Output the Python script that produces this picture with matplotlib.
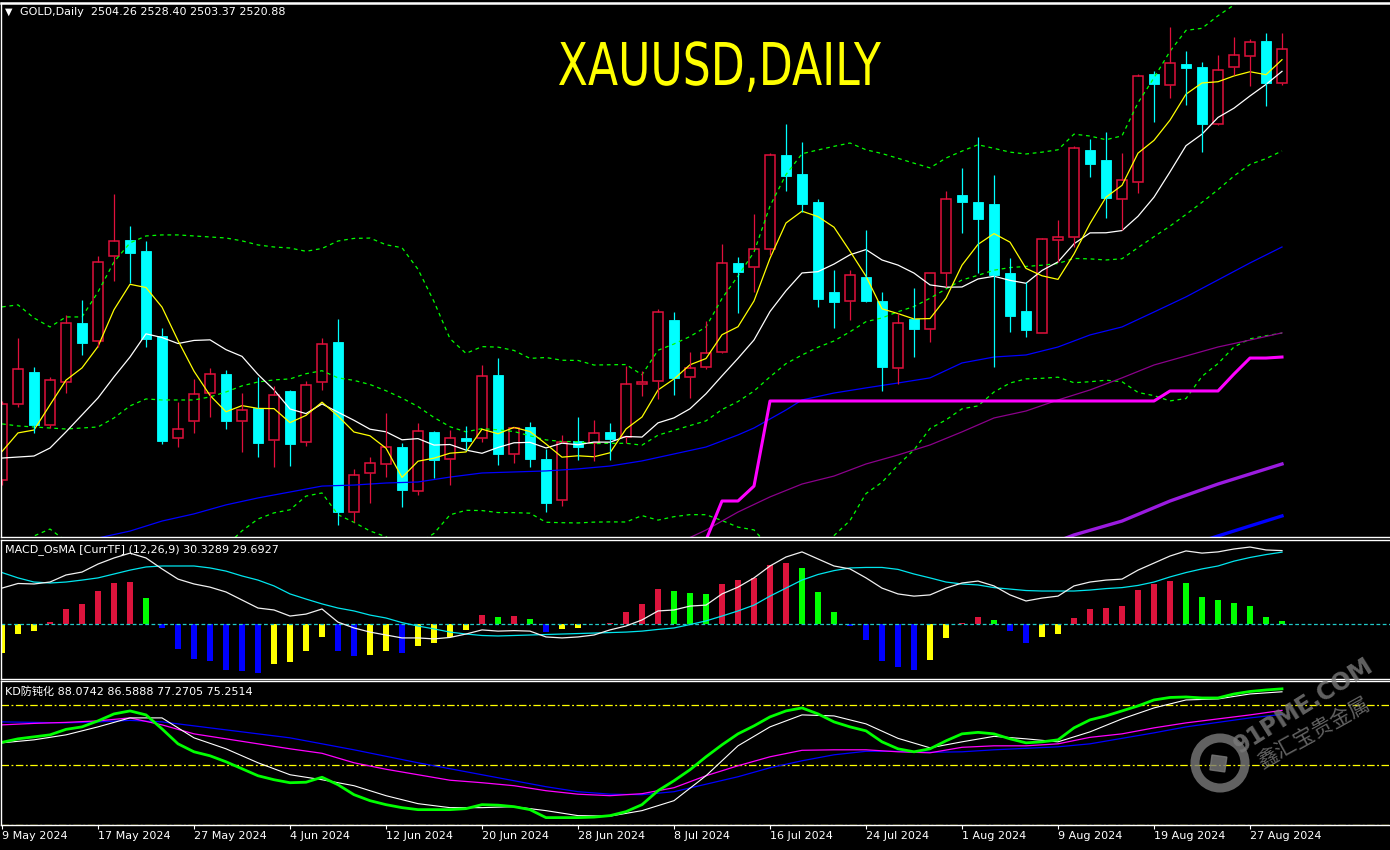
import numpy as np
import pandas as pd
import matplotlib
matplotlib.use('Agg')
import matplotlib.pyplot as plt
from matplotlib.patches import Circle, Rectangle, PathPatch
from matplotlib.textpath import TextPath
from matplotlib.font_manager import FontProperties
import matplotlib.transforms as mtransforms

# ---- data ----
dates = pd.bdate_range('2024-05-09', '2024-08-29')

open_ = [2310.1, 2347.2, 2362.9, 2337.0, 2358.0, 2386.9, 2378.1, 2419.6, 2427.4, 2422.1,
         2380.5, 2330.6, 2338.9, 2352.6, 2361.9, 2338.9, 2345.3, 2329.6, 2353.6, 2328.7,
         2358.0, 2377.6, 2294.4, 2313.5, 2317.9, 2326.2, 2304.7, 2333.6, 2320.4, 2330.6,
         2330.6, 2361.4, 2322.8, 2336.0, 2320.4, 2300.3, 2329.2, 2328.2, 2333.6, 2331.1,
         2357.0, 2358.5, 2388.3, 2360.5, 2365.3, 2372.7, 2416.2, 2414.2, 2423.0, 2469.0,
         2459.7, 2446.0, 2402.0, 2397.6, 2409.3, 2397.6, 2364.9, 2388.8, 2383.9, 2411.3,
         2449.4, 2446.0, 2445.0, 2411.3, 2392.7, 2382.0, 2427.4, 2428.9, 2471.5, 2466.6,
         2447.5, 2455.8, 2508.6, 2503.2, 2513.5, 2512.0, 2484.2, 2512.0, 2517.4, 2524.8,
         2504.26]
high = [2348.7, 2379.5, 2365.3, 2360.5, 2390.8, 2398.1, 2419.6, 2449.9, 2434.3, 2427.0,
        2384.4, 2348.2, 2359.5, 2364.9, 2363.9, 2352.6, 2360.5, 2356.1, 2354.1, 2358.5,
        2379.5, 2388.8, 2315.5, 2321.3, 2342.8, 2328.2, 2338.0, 2334.0, 2334.5, 2336.5,
        2366.3, 2369.7, 2336.0, 2338.4, 2325.2, 2332.1, 2340.9, 2339.4, 2338.0, 2365.8,
        2363.4, 2393.7, 2392.2, 2372.7, 2387.8, 2425.5, 2419.1, 2440.2, 2470.0, 2484.2,
        2475.4, 2447.5, 2412.8, 2412.8, 2432.3, 2402.0, 2391.7, 2404.0, 2411.3, 2451.4,
        2462.6, 2477.8, 2459.2, 2418.6, 2406.9, 2428.4, 2437.2, 2473.4, 2476.8, 2480.3,
        2470.0, 2508.6, 2510.1, 2531.6, 2519.9, 2514.5, 2517.9, 2526.7, 2525.7, 2528.7,
        2528.40]
low = [2307.6, 2345.8, 2333.1, 2335.5, 2352.6, 2371.2, 2375.1, 2407.4, 2406.4, 2375.1,
       2327.7, 2326.2, 2333.1, 2340.9, 2335.0, 2323.8, 2321.3, 2316.4, 2316.9, 2326.7,
       2354.1, 2288.1, 2289.5, 2298.8, 2311.5, 2296.9, 2302.7, 2311.1, 2307.6, 2324.8,
       2328.7, 2317.4, 2318.4, 2316.4, 2294.4, 2297.4, 2319.9, 2319.4, 2319.9, 2328.2,
       2351.2, 2349.7, 2351.6, 2350.2, 2364.4, 2372.2, 2391.7, 2402.0, 2420.1, 2451.4,
       2441.1, 2394.7, 2384.4, 2388.3, 2397.1, 2353.6, 2357.0, 2370.2, 2377.6, 2404.5,
       2430.9, 2411.3, 2365.3, 2382.5, 2380.0, 2382.0, 2416.7, 2424.0, 2458.2, 2438.2,
       2432.3, 2450.4, 2485.1, 2496.9, 2493.5, 2470.5, 2483.7, 2508.1, 2502.7, 2493.0,
       2503.37]
close = [2347.2, 2364.4, 2337.0, 2359.0, 2386.9, 2377.1, 2416.7, 2427.0, 2421.1, 2379.0,
         2329.2, 2335.0, 2352.1, 2361.9, 2338.9, 2344.3, 2328.2, 2351.6, 2327.7, 2356.5,
         2376.6, 2294.4, 2312.5, 2318.4, 2326.2, 2305.2, 2334.0, 2319.9, 2330.6, 2329.2,
         2360.9, 2322.8, 2335.5, 2320.4, 2298.8, 2328.7, 2326.2, 2333.1, 2330.1, 2357.0,
         2358.0, 2392.2, 2360.0, 2364.9, 2372.2, 2416.2, 2411.8, 2423.0, 2469.0, 2458.7,
         2445.0, 2398.6, 2397.1, 2410.3, 2397.6, 2365.3, 2386.9, 2383.9, 2411.3, 2447.5,
         2446.0, 2437.7, 2410.3, 2390.3, 2383.4, 2427.9, 2428.9, 2472.4, 2464.6, 2448.0,
         2456.8, 2507.6, 2503.7, 2514.0, 2511.5, 2484.2, 2510.6, 2517.9, 2524.3, 2504.2,
         2520.88]

# moving-average values before enough history exists
ma5_head = [2324.0, 2333.1, 2334.5, 2346.8]
ma10_head = [2320.8, 2321.3, 2321.8, 2325.7, 2333.6, 2341.9, 2350.2, 2360.5, 2370.2]
bb_up_head = [2394.7, 2395.7, 2389.3, 2384.9, 2389.8, 2389.8, 2402.0, 2416.7, 2426.0, 2429.4,
              2429.9, 2429.9, 2429.4, 2428.9, 2428.4, 2427.0, 2425.0, 2424.0, 2423.5]
bb_mid_head = [2337.5, 2336.5, 2336.0, 2335.5, 2335.0, 2335.5, 2336.0, 2340.4, 2346.3, 2349.7,
               2349.2, 2349.2, 2349.2, 2350.7, 2353.1, 2356.1, 2358.0, 2359.0, 2359.5]

blue_k = [0, 2, 4, 6, 8, 10, 12, 14, 16, 18, 20, 22, 24, 26, 28, 30, 32, 34, 36, 38, 40, 42, 44, 46,
          47, 48, 49, 50, 52, 54, 56, 58, 60, 62, 64, 66, 68, 70, 72, 74, 76, 78, 80]
blue_ma = [2272.9, 2275.9, 2278.8, 2281.7, 2285.1, 2290.0, 2293.5, 2297.9, 2301.3, 2304.2,
           2307.1, 2307.6, 2308.6, 2309.1, 2311.5, 2313.5, 2314.0, 2314.5, 2315.5, 2316.9,
           2319.4, 2322.8, 2326.2, 2332.1, 2335.5, 2339.9, 2344.3, 2349.2, 2352.6, 2355.1,
           2357.5, 2360.0, 2367.3, 2370.2, 2371.2, 2375.1, 2381.0, 2384.9, 2392.2, 2399.6,
           2407.9, 2416.2, 2424.0]
purple_k = list(range(40, 81, 2))
purple_ma = [2268.0, 2278.3, 2285.6, 2294.4, 2301.8, 2308.1, 2312.0, 2317.9, 2322.3, 2327.2,
             2333.6, 2340.4, 2343.8, 2349.2, 2354.1, 2360.0, 2366.3, 2370.7, 2375.1, 2378.5,
             2382.0]
step_k = list(range(43, 81))
step_line = [2266.1, 2280.7, 2299.8, 2299.8, 2307.1] + [2348.7] * 25 + [2353.6] * 4 + \
            [2361.9, 2369.7, 2369.7, 2370.2]
violet_k = [64, 66, 67, 70, 73, 76, 80]
violet_line = [2276.8, 2280.2, 2283.2, 2290.0, 2299.8, 2308.1, 2317.9]
blue2_k = [74, 75, 76, 80]
blue2_line = [2278.3, 2280.2, 2282.7, 2292.5]

osma = [-11.8, -4.0, -2.8, 0.9, 6.3, 8.4, 13.7, 17.2, 17.4, 10.8,
        -1.5, -10.2, -14.3, -15.1, -18.8, -19.2, -20.0, -16.3, -15.5, -11.0,
        -5.2, -11.0, -13.0, -12.6, -11.0, -12.0, -8.9, -7.7, -5.2, -2.3,
        4.0, 3.2, 3.6, 2.0, -3.0, -1.8, -1.4, 0.2, 0.7, 5.1,
        8.2, 14.4, 13.6, 12.7, 12.3, 16.6, 18.1, 19.1, 24.3, 25.1,
        23.1, 13.2, 4.9, -0.7, -6.5, -14.9, -17.4, -18.6, -14.5, -5.8,
        0.7, 3.2, 1.6, -2.8, -7.6, -5.1, -3.9, 2.6, 6.3, 6.7,
        7.5, 14.1, 16.7, 17.8, 17.0, 11.2, 10.0, 8.8, 7.5, 3.0, 1.4]
macd_main = [14.9, 16.8, 16.6, 17.4, 20.3, 21.5, 24.8, 27.3, 29.3, 27.3,
             22.8, 18.6, 16.6, 15.3, 13.3, 10.0, 6.7, 5.9, 3.4, 4.2,
             6.3, 0.9, -1.5, -3.2, -4.4, -5.6, -5.6, -6.0, -5.4, -4.0,
             -2.3, -2.8, -2.6, -2.8, -5.2, -5.6, -5.2, -4.4, -2.3, -0.7,
             1.8, 5.5, 5.9, 7.5, 7.9, 12.5, 15.3, 19.1, 24.0, 27.7,
             29.8, 26.9, 24.0, 22.8, 19.1, 14.9, 12.5, 11.6, 12.1, 14.9,
             17.0, 17.8, 15.8, 12.1, 9.6, 10.8, 11.6, 15.8, 17.4, 18.2,
             18.6, 22.3, 25.2, 28.1, 30.2, 29.3, 29.8, 31.0, 31.8, 30.6, 30.33]
macd_signal = [21.3, 19.1, 17.4, 17.0, 17.4, 18.2, 19.1, 20.7, 22.3, 23.6,
               24.0, 24.0, 24.0, 23.2, 21.9, 19.9, 18.2, 15.8, 12.5, 10.4,
               8.4, 6.7, 5.5, 3.8, 2.6, 0.7, -0.7, -1.9, -3.2, -4.0,
               -4.6, -4.8, -4.6, -4.4, -4.2, -4.0, -3.8, -3.6, -3.4, -3.2,
               -2.8, -2.1, -1.5, -0.1, 1.4, 3.4, 5.5, 7.9, 11.6, 14.9,
               18.2, 20.5, 22.1, 23.2, 23.4, 23.4, 22.6, 20.7, 19.1, 17.4,
               16.6, 16.2, 15.1, 14.5, 13.9, 13.7, 13.7, 13.7, 14.1, 14.7,
               15.1, 16.0, 17.4, 19.5, 21.3, 22.8, 24.0, 26.0, 27.5, 28.7, 29.69]

kd_fast = [61.25, 63.0, 64.0, 65.0, 67.75, 69.0, 72.0, 75.5, 77.0, 75.0,
           68.0, 60.5, 56.5, 54.5, 51.5, 48.0, 44.5, 42.5, 41.0, 41.25,
           43.75, 40.0, 35.0, 32.0, 30.0, 28.5, 27.5, 27.5, 27.5, 28.0,
           30.0, 29.75, 29.0, 27.5, 23.5, 23.5, 23.5, 23.75, 24.5, 26.5,
           30.0, 37.0, 42.0, 47.5, 54.0, 60.0, 65.5, 69.5, 74.0, 77.0,
           78.5, 75.5, 71.5, 69.0, 67.0, 61.5, 58.0, 56.5, 58.0, 62.0,
           65.5, 66.25, 65.5, 63.0, 61.0, 61.5, 62.5, 68.5, 72.5, 74.5,
           77.0, 79.5, 82.5, 83.75, 84.0, 83.5, 83.5, 85.5, 86.75, 87.5, 88.07]
kd_k = list(range(0, 81, 2))
kd_slow = [61.0, 62.5, 65.0, 69.0, 73.5, 73.5, 63.5, 58.0, 51.0, 45.0,
           42.5, 39.5, 34.5, 30.5, 28.5, 28.5, 29.0, 27.0, 24.5, 24.25,
           27.0, 32.0, 44.5, 59.5, 69.0, 75.0, 74.5, 70.5, 63.25, 58.5,
           61.5, 64.25, 63.0, 61.5, 66.5, 73.0, 78.5, 82.5, 83.0, 85.5, 86.59]
kd_ma1 = [70.0, 70.75, 71.25, 72.0, 73.5, 70.0, 65.5, 63.0, 60.5, 58.0,
          55.75, 51.0, 47.75, 45.0, 42.25, 41.0, 39.5, 37.0, 35.25, 34.5,
          35.5, 38.5, 44.5, 49.5, 54.0, 57.25, 57.5, 57.5, 56.5, 56.0,
          58.75, 59.5, 59.5, 60.5, 63.75, 65.5, 68.5, 71.0, 73.0, 75.0, 77.27]
kd_ma2 = [71.5, 71.25, 71.0, 71.5, 72.25, 71.5, 69.5, 67.5, 65.5, 63.5,
          60.5, 57.5, 54.25, 51.0, 48.0, 45.0, 42.0, 39.0, 36.5, 35.25,
          35.0, 36.5, 40.25, 44.0, 48.5, 52.0, 55.0, 56.75, 56.75, 56.25,
          56.5, 57.5, 58.25, 59.0, 60.5, 63.25, 66.0, 69.0, 71.25, 73.5, 75.25]
kd_levels = [80, 50, 20]

# ---- derived lines ----
cs = pd.Series(close)
ma5 = cs.rolling(5).mean().values
ma5[:4] = ma5_head
ma10 = cs.rolling(10).mean().values
ma10[:9] = ma10_head
bb_mid = cs.rolling(20).mean().values
bb_up = bb_mid + 2 * cs.rolling(20).std(ddof=0).values
bb_mid[:19] = bb_mid_head
bb_up[:19] = bb_up_head
bb_lo = 2 * bb_mid - bb_up

W, H = 1390, 850
fig = plt.figure(figsize=(W / 100, H / 100), dpi=100, facecolor='black')


def panel(top, bottom):
    a = fig.add_axes([1 / W, 1 - bottom / H, (W - 1) / W, (bottom - top) / H])
    a.set_facecolor('black')
    for s in ['top', 'bottom', 'left']:
        a.spines[s].set_color('white')
        a.spines[s].set_linewidth(1.0)
    a.spines['right'].set_visible(False)
    a.set_xlim(-0.0625, 86.75)
    a.set_xticks([])
    a.set_yticks([])
    return a


ax = panel(3, 537)
ax.spines['top'].set_linewidth(1.8)
ax.set_ylim(2282.2, 2543.3)
axm = panel(539.5, 678.5)
axm.set_ylim(-22.3, 34.9)
axk = panel(681, 825)
axk.set_ylim(19.8, 92)

x = np.arange(len(close))
o = np.array(open_)
c = np.array(close)
h = np.array(high)
l = np.array(low)
up = c > o
top_b = np.maximum(o, c)
bot_b = np.minimum(o, c)
RED = '#E0103C'
CYAN = '#00FFFF'
wcol = np.where(up, RED, CYAN)

# indicator lines below candles
green_dash = dict(color='#00FF00', lw=0.9, dashes=(3, 3))
ax.plot(x, bb_up, **green_dash)
ax.plot(x, bb_mid, **green_dash)
ax.plot(x, bb_lo, **green_dash)
ax.plot(blue_k, blue_ma, color='#0000FF', lw=0.9)
ax.plot(purple_k, purple_ma, color='#8B008B', lw=0.9)
ax.plot(step_k, step_line, color='#FF00FF', lw=2.2)
ax.plot(violet_k, violet_line, color='#9B1BE0', lw=2.4)
ax.plot(blue2_k, blue2_line, color='#0000FF', lw=2.4)
ax.plot(x, ma10, color='white', lw=0.9)
ax.plot(x, ma5, color='#FFFF00', lw=0.9)

# candles
ax.vlines(x, top_b, h, colors=wcol, lw=0.9)
ax.vlines(x, l, bot_b, colors=wcol, lw=0.9)
ax.bar(x[~up], (top_b - bot_b)[~up], bottom=bot_b[~up], width=0.64,
       color=CYAN, edgecolor=CYAN, lw=0.6)
ax.bar(x[up], (top_b - bot_b)[up], bottom=bot_b[up], width=0.6,
       fill=False, edgecolor=RED, lw=1.1)

# MACD / OsMA
hist = np.array(osma)
prev = np.concatenate([[-np.inf], hist[:-1]])
hcol = np.where(hist >= 0, np.where(hist > prev, '#DC143C', '#00FF00'),
                np.where(hist < prev, '#0000FF', '#FFFF00'))
axm.bar(x, hist, width=0.33, color=hcol, lw=0)
axm.axhline(0, color='#20C8C8', lw=0.9, dashes=(3, 2))
axm.plot(x, macd_signal, color='#00E5EE', lw=0.9)
axm.plot(x, macd_main, color='#F0F0F0', lw=0.9)

# KD
for lv in kd_levels:
    axk.axhline(lv, color='#FFFF00', lw=0.9, dashes=(6, 2, 1.5, 2))
axk.plot(kd_k, kd_ma2, color='#0000FF', lw=0.9)
axk.plot(kd_k, kd_ma1, color='#FF00FF', lw=0.9)
axk.plot(kd_k, kd_slow, color='white', lw=0.8)
axk.plot(x, kd_fast, color='#00FF00', lw=2.0)

# date axis
tick_idx = list(range(0, 81, 6))
axk.set_xticks(tick_idx)
axk.tick_params(axis='x', direction='out', length=3, width=0.8, color='white',
                labelbottom=False)
trans = mtransforms.blended_transform_factory(axk.transData, axk.transAxes)
for i in tick_idx:
    d = dates[i]
    axk.text(i - 0.02, -0.078, f'{d.day} {d.strftime("%b")} {d.year}', transform=trans,
             color='white', fontsize=8, ha='left', va='center', family='DejaVu Sans')

# labels
fig.text(5 / W, 1 - 12 / H, '\u25bc', color='white', fontsize=7, va='center')
fig.text(20 / W, 1 - 12 / H, 'GOLD,Daily  2504.26 2528.40 2503.37 2520.88',
         color='white', fontsize=8, va='center')
fig.text(5 / W, 1 - 550 / H, 'MACD_OsMA [CurrTF] (12,26,9) 30.3289 29.6927',
         color='white', fontsize=8, va='center')
fig.text(5 / W, 1 - 692 / H, 'KD防钝化 88.0742 86.5888 77.2705 75.2514',
         color='white', fontsize=8, va='center', family=['DejaVu Sans', 'Noto Sans CJK SC'])

# overlay in pixel coordinates (title + watermark)
ov = fig.add_axes([0, 0, 1, 1], facecolor='none')
ov.set_xlim(0, W)
ov.set_ylim(H, 0)
ov.axis('off')

# narrow title, squeezed into the box it occupies in the chart
tp = TextPath((0, 0), 'XAUUSD,DAILY', size=100, prop=FontProperties(family='DejaVu Sans'))
ext = tp.get_extents()
sx = 322 / (ext.x1 - ext.x0)
sy = 43 / 72.9
tr = mtransforms.Affine2D().translate(-ext.x0, 0).scale(sx, -sy).translate(559, 85)
ov.add_patch(PathPatch(tr.transform_path(tp), color='#FFFF00', lw=0))

# watermark
wm_col = '#7a7a7a'
ov.add_patch(Circle((1220, 763), 25, fill=False, ec=wm_col, lw=6.5, alpha=0.8))
ov.add_patch(Rectangle((1212, 755), 15, 15, angle=8, color=wm_col, alpha=0.8))
ov.text(1304, 706, '91PME.COM', rotation=32, color=wm_col, alpha=0.8, fontsize=17,
        fontweight='bold', ha='center', va='center', family='DejaVu Sans')
ov.text(1314, 733, '鑫汇宝贵金属', rotation=29, color=wm_col, alpha=0.8, fontsize=15,
        ha='center', va='center', family='Noto Sans CJK SC')

fig.savefig('out.png', dpi=100, facecolor='black')
